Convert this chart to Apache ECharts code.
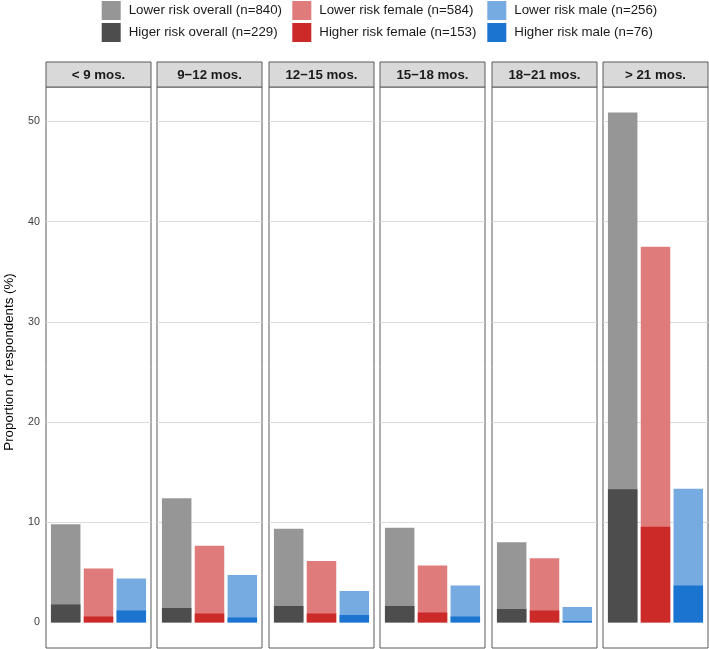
<!DOCTYPE html>
<html>
<head>
<meta charset="utf-8">
<script src="https://cdn.jsdelivr.net/npm/echarts@6/dist/echarts.min.js"></script>
<style>
html,body{margin:0;padding:0;background:#fff;}
#chart{width:709px;height:649px;}
</style>
</head>
<body>
<div id="chart"></div>
<script>
// ---- data ----
const panels = ['< 9 mos.', '9\u221212 mos.', '12\u221215 mos.', '15\u221218 mos.', '18\u221221 mos.', '> 21 mos.'];
const groupPos = [1, 2, 3]; // overall, female, male
const lowerOverall  = [9.8, 12.4, 9.35, 9.45, 8.0, 50.9];
const higherOverall = [1.8, 1.45, 1.65, 1.65, 1.35, 13.3];
const lowerFemale   = [5.4, 7.65, 6.15, 5.7, 6.4, 37.5];
const higherFemale  = [0.6, 0.9, 0.9, 1.0, 1.2, 9.55];
const lowerMale     = [4.4, 4.75, 3.15, 3.7, 1.55, 13.35];
const higherMale    = [1.2, 0.5, 0.75, 0.6, 0.15, 3.7];
const seriesNames = [
  'Lower risk overall (n=840)', 'Higer risk overall (n=229)',
  'Lower risk female (n=584)', 'Higher risk female (n=153)',
  'Lower risk male (n=256)', 'Higher risk male (n=76)'
];
const yTicks = [0, 10, 20, 30, 40, 50];

// ---- style ----
const FONT = 'Liberation Sans, Arial, Helvetica, sans-serif';
const colors = ['#969696', '#4d4d4d', '#e07b7b', '#cc2929', '#75abe0', '#1b75d0'];
const seriesValues = [lowerOverall, higherOverall, lowerFemale, higherFemale, lowerMale, higherMale];
const seriesPos = [groupPos[0], groupPos[0], groupPos[1], groupPos[1], groupPos[2], groupPos[2]];

const panelLefts = [46, 157, 269, 380, 492, 603];
const panelW = 105, panelTop = 87, panelH = 561;
const stripTop = 62, stripH = 25;
const yMin = -2.545, yMax = 53.445;

const grids = [], xAxes = [], yAxes = [], series = [], graphics = [];
panels.forEach((p, i) => {
  grids.push({left: panelLefts[i], top: panelTop, width: panelW, height: panelH,
    show: true, borderColor: '#5a5a5a', borderWidth: 1, backgroundColor: 'transparent', containLabel: false});
  xAxes.push({type: 'value', gridIndex: i, min: 0.4, max: 3.6, show: false});
  yAxes.push({type: 'value', gridIndex: i, min: yMin, max: yMax, splitNumber: 5,
    axisLine: {show: false}, axisTick: {show: false},
    axisLabel: {show: i === 0, margin: 6, color: '#3d3d3d', fontSize: 10.7, fontFamily: FONT,
      formatter: v => (yTicks.indexOf(Math.round(v * 1000) / 1000) >= 0 ? String(v) : '')},
    splitLine: {show: true, showMinLine: false, showMaxLine: false,
      lineStyle: {color: ['rgba(0,0,0,0)', '#dadada', '#dadada', '#dadada', '#dadada', '#dadada'], width: 1}}
  });
  seriesNames.forEach((name, k) => {
    series.push({
      name: name, type: 'bar', xAxisIndex: i, yAxisIndex: i,
      barWidth: 29.5, barGap: '-100%',
      data: [[seriesPos[k], seriesValues[k][i]]],
      itemStyle: {color: colors[k], borderWidth: 0},
      emphasis: {disabled: true}
    });
  });
  graphics.push({type: 'rect', shape: {x: panelLefts[i], y: stripTop, width: panelW, height: stripH},
    style: {fill: '#d9d9d9', stroke: '#5a5a5a', lineWidth: 1}, z: 100});
  graphics.push({type: 'text', x: panelLefts[i] + panelW / 2, y: stripTop + stripH / 2 + 0.5,
    style: {text: p, align: 'center', verticalAlign: 'middle', fontSize: 13.3, fontWeight: 'bold',
      fill: '#1a1a1a', fontFamily: FONT}, z: 101});
});
graphics.push({type: 'text', x: 9, y: 362, rotation: Math.PI / 2,
  style: {text: 'Proportion of respondents (%)', align: 'center', verticalAlign: 'middle',
    fontSize: 13.3, fill: '#000', fontFamily: FONT}});

const legendLefts = [101.7, 292.3, 487.3];
const legends = legendLefts.map((l, j) => ({
  orient: 'vertical', left: l, top: 1, padding: 0,
  itemWidth: 19, itemHeight: 19, itemGap: 3, icon: 'rect',
  data: [seriesNames[j * 2], seriesNames[j * 2 + 1]],
  textStyle: {fontSize: 13.3, color: '#1a1a1a', fontFamily: FONT, padding: [0, 0, 0, 3]},
  itemStyle: {borderWidth: 0}
}));

const chart = echarts.init(document.getElementById('chart'), null, {renderer: 'canvas'});
chart.setOption({
  animation: false,
  backgroundColor: '#fff',
  legend: legends,
  grid: grids, xAxis: xAxes, yAxis: yAxes, series: series,
  graphic: graphics
});
</script>
</body>
</html>
